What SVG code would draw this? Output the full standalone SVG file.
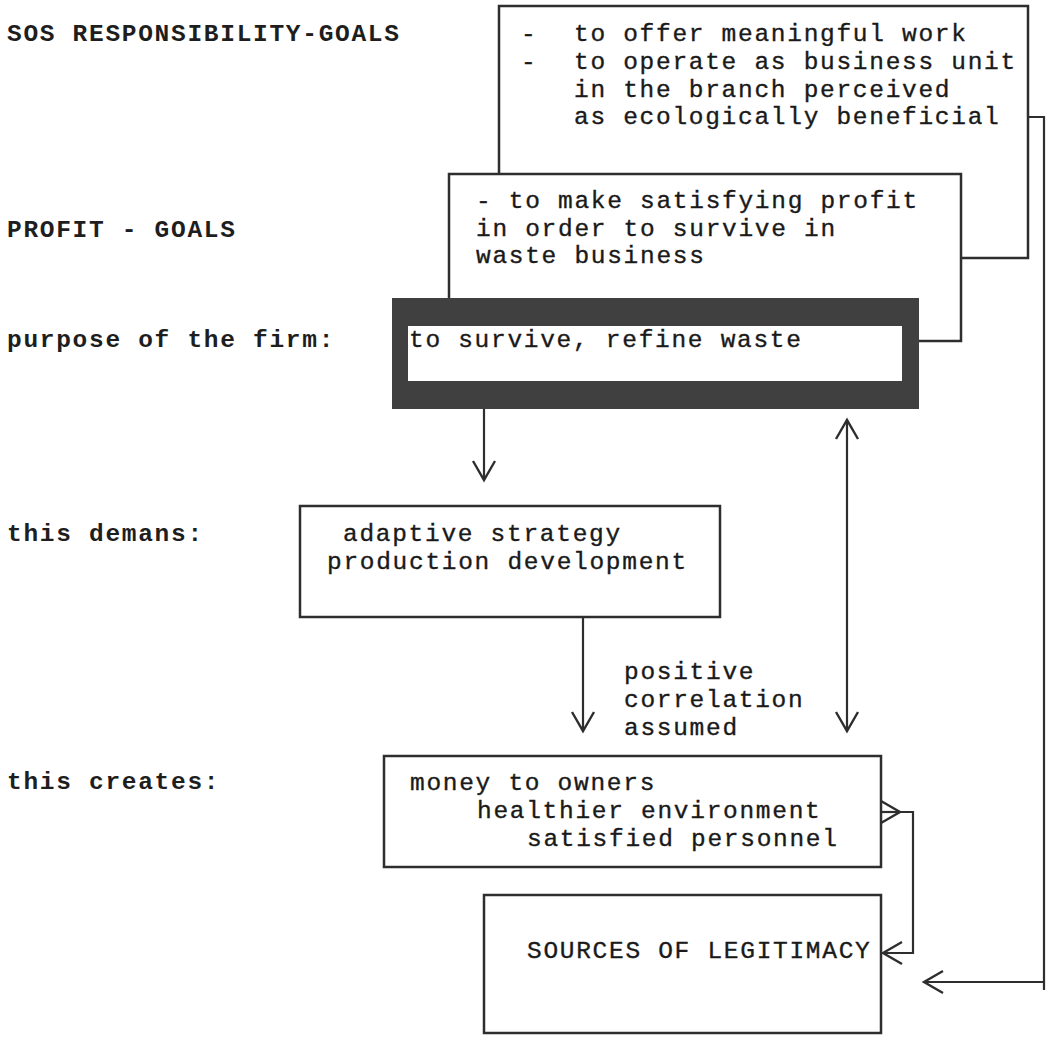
<svg xmlns="http://www.w3.org/2000/svg" width="1051" height="1041" viewBox="0 0 1051 1041">
<style>
  .lbl{font-family:"Liberation Mono","Courier New",monospace;font-size:24.5px;letter-spacing:1.7px;font-weight:bold;fill:#1e1e1e}
  .t{font-family:"Liberation Mono","Courier New",monospace;font-size:24.5px;letter-spacing:1.7px;fill:#1a1a1a;stroke:#1a1a1a;stroke-width:0.35}
  .box{fill:#fff;stroke:#2e2e2e;stroke-width:2.5}
  .ln{fill:none;stroke:#2e2e2e;stroke-width:2.2}
</style>
<defs>
  <marker id="v" markerUnits="userSpaceOnUse" markerWidth="30" markerHeight="30" viewBox="-25 -15 30 30" refX="0" refY="0" orient="auto-start-reverse" overflow="visible">
    <path d="M-19,-11 L0,0 L-19,11" fill="none" stroke="#2e2e2e" stroke-width="2.4"/>
  </marker>
</defs>
<rect width="1051" height="1041" fill="#fff"/>

<g id="labels">
  <text class="lbl" x="7" y="41">SOS RESPONSIBILITY-GOALS</text>
  <text class="lbl" x="7" y="237">PROFIT - GOALS</text>
  <text class="lbl" x="7" y="347">purpose of the firm:</text>
  <text class="lbl" x="7" y="541">this demans:</text>
  <text class="lbl" x="7" y="789">this creates:</text>
</g>

<g id="connectors">
  <path class="ln" d="M1028,117 H1044 V990 M1044,982 H924" marker-end="url(#v)"/>
  <path class="ln" d="M484,409 V480" marker-end="url(#v)"/>
  <path class="ln" d="M583,618 V731" marker-end="url(#v)"/>
  <path class="ln" d="M847,731 V420" marker-start="url(#v)" marker-end="url(#v)"/>
  <path class="ln" d="M881,812 H900" marker-end="url(#v)"/>
  <path class="ln" d="M900,812 H913 V953 H883" marker-end="url(#v)"/>
</g>

<g id="sos-goals">
  <rect class="box" x="499" y="6" width="529" height="252"/>
  <text class="t" x="521" y="41">-</text>
  <text class="t" x="574" y="41">to offer meaningful work</text>
  <text class="t" x="521" y="69">-</text>
  <text class="t" x="574" y="69">to operate as business unit</text>
  <text class="t" x="574" y="97">in the branch perceived</text>
  <text class="t" x="574" y="124">as ecologically beneficial</text>
</g>

<g id="profit-goals">
  <rect class="box" x="449" y="174" width="512" height="167"/>
  <text class="t" x="476" y="208">- to make satisfying profit</text>
  <text class="t" x="476" y="236">in order to survive in</text>
  <text class="t" x="476" y="263">waste business</text>
</g>

<g id="purpose">
  <path d="M392,298 H919 V409 H392 Z M408,326 V381 H902 V326 Z" fill="#404040" fill-rule="evenodd"/>
  <rect x="408" y="326" width="494" height="55" fill="#fff"/>
  <text class="t" x="409" y="347">to survive, refine waste</text>
</g>

<g id="strategy">
  <rect class="box" x="300" y="506" width="420" height="111"/>
  <text class="t" x="343" y="541">adaptive strategy</text>
  <text class="t" x="327" y="569">production development</text>
</g>

<g id="correlation-label">
  <text class="t" x="624" y="679">positive</text>
  <text class="t" x="624" y="707">correlation</text>
  <text class="t" x="624" y="735">assumed</text>
</g>

<g id="creates">
  <rect class="box" x="384" y="756" width="497" height="111"/>
  <text class="t" x="410" y="790">money to owners</text>
  <text class="t" x="477" y="818">healthier environment</text>
  <text class="t" x="527" y="846">satisfied personnel</text>
</g>

<g id="legitimacy">
  <rect class="box" x="484" y="895" width="397" height="138"/>
  <text class="t" x="527" y="958">SOURCES OF LEGITIMACY</text>
</g>
</svg>
